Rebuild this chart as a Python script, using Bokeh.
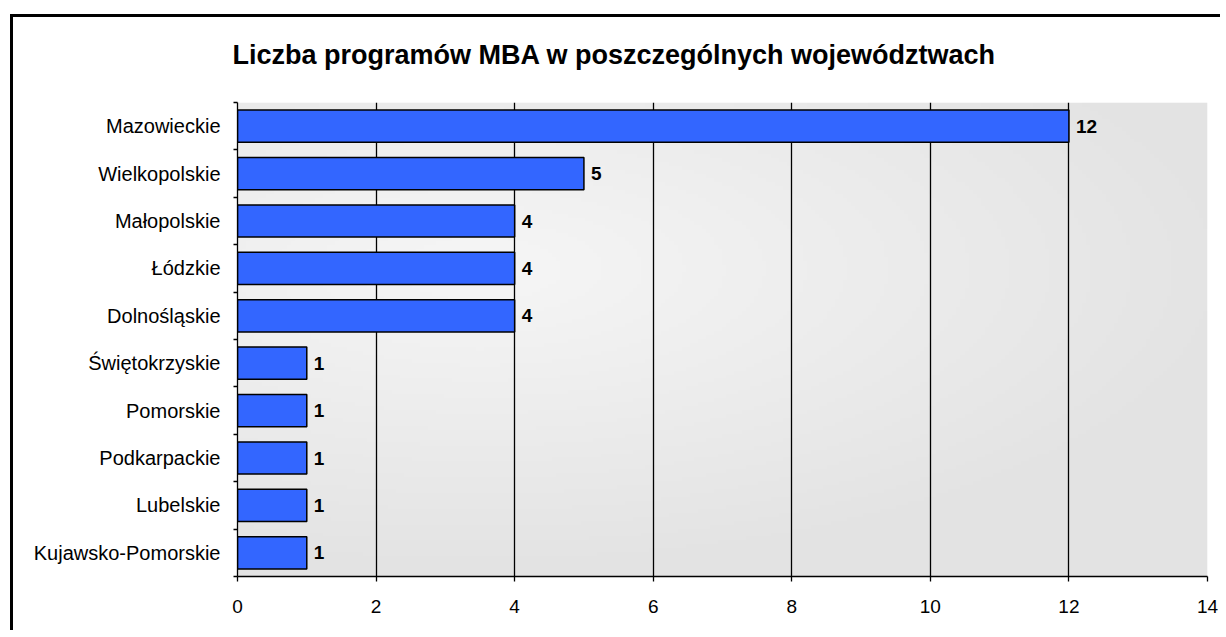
import numpy as np
from bokeh.plotting import figure
from bokeh.models import Range1d, FixedTicker, LabelSet, ColumnDataSource
from bokeh.core.properties import value
from bokeh.embed import file_html
from bokeh.resources import INLINE

title_text = "Liczba programów MBA w poszczególnych województwach"
categories = ["Mazowieckie", "Wielkopolskie", "Małopolskie", "Łódzkie", "Dolnośląskie",
              "Świętokrzyskie", "Pomorskie", "Podkarpackie", "Lubelskie", "Kujawsko-Pomorskie"]
values = [12, 5, 4, 4, 4, 1, 1, 1, 1, 1]
x_ticks = [0, 2, 4, 6, 8, 10, 12, 14]

n = len(categories)
ypos = [n - 1 - i for i in range(n)]
src = ColumnDataSource(dict(y=ypos, v=values, cat=categories, label=[str(v) for v in values]))

FONT = "Liberation Sans"

p = figure(width=1220, height=630, x_range=Range1d(0, 14), y_range=Range1d(-0.5, n - 0.5),
           output_backend="svg", toolbar_location=None,
           min_border_left=237, min_border_right=13, min_border_top=102, min_border_bottom=54)
p.background_fill_color = None
p.border_fill_color = None
p.outline_line_color = None
# outer chart border (top and left edges, drawn behind the transparent canvas)
p.styles = {
    "background-color": "white",
    "background-image": "linear-gradient(#000, #000), linear-gradient(#000, #000)",
    "background-size": "100% 3px, 3px 100%",
    "background-position": "10px 14px, 10px 14px",
    "background-repeat": "no-repeat",
}

# gradient background of plot area
H, W = 120, 240
u = np.linspace(0, 1, W)[None, :]
v = 1 - np.linspace(0, 1, H)[:, None]  # 0 at top
t = np.clip(np.sqrt(((u - 0.25) / 0.8) ** 2 + ((v - 0.35) / 0.65) ** 2), 0, 1)
c = (246 - t * (246 - 227)).astype(np.uint32)
img = (255 << 24) | (c << 16) | (c << 8) | c
p.image_rgba(image=[img.astype(np.uint32)], x=0, y=-0.5, dw=14, dh=n, level="image")

p.hbar(y="y", right="v", left=0, height=0.68, source=src,
       fill_color="#3366FF", line_color="black", line_width=1.5)

labels = LabelSet(x="v", y="y", text="label", source=src, x_offset=7,
                  text_baseline="middle", text_font=value(FONT), text_font_style="bold",
                  text_font_size="19px", text_color="black")
p.add_layout(labels)

# title
p.title.text = title_text
p.title.text_font = FONT
p.title.text_font_size = "27px"
p.title.text_font_style = "bold"
p.title.text_color = "black"
p.title.align = "left"
p.title.offset = -5
p.title.standoff = 66

# grid
p.ygrid.visible = False
p.xgrid.ticker = FixedTicker(ticks=x_ticks[1:])
p.xgrid.grid_line_color = "black"
p.xgrid.grid_line_width = 1.3

# x axis
xa = p.xaxis[0]
xa.ticker = FixedTicker(ticks=x_ticks)
xa.axis_line_color = "black"
xa.axis_line_width = 1.3
xa.major_tick_out = 5
xa.major_tick_in = 0
xa.major_tick_line_color = "black"
xa.major_tick_line_width = 1.3
xa.minor_tick_line_color = None
xa.major_label_text_font = FONT
xa.major_label_text_font_size = "19px"
xa.major_label_text_color = "black"
xa.major_label_standoff = 18

# y axis
ya = p.yaxis[0]
ya.ticker = FixedTicker(ticks=ypos, minor_ticks=[k - 0.5 for k in range(n + 1)])
ya.major_label_overrides = {y: c for y, c in zip(ypos, categories)}
ya.axis_line_color = "black"
ya.axis_line_width = 1.3
ya.major_tick_out = 0
ya.major_tick_in = 0
ya.minor_tick_out = 4
ya.minor_tick_in = 0
ya.minor_tick_line_color = "black"
ya.minor_tick_line_width = 1.3
ya.major_label_text_font = FONT
ya.major_label_text_font_size = "20px"
ya.major_label_text_color = "black"
ya.major_label_standoff = 13

open("out.html", "w").write(file_html(p, INLINE))
